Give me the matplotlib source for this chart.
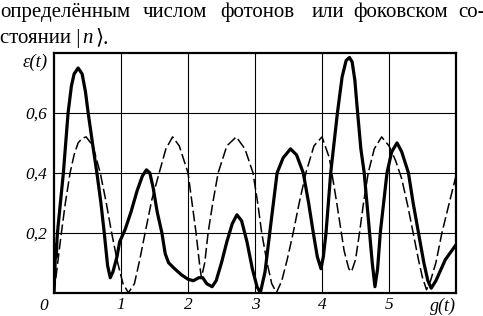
import matplotlib
matplotlib.use("Agg")
import matplotlib.pyplot as plt

W, H = 483, 316

# dashed curve
dash_x = [0.00, 0.05, 0.11, 0.17, 0.24, 0.30, 0.36, 0.42, 0.48, 0.58, 0.69, 0.78, 0.86,
          0.95, 1.03, 1.11, 1.20, 1.28, 1.36, 1.46, 1.57, 1.67, 1.77, 1.87, 2.00, 2.06,
          2.12, 2.17, 2.20, 2.25, 2.30, 2.37, 2.45, 2.58, 2.72, 2.85, 2.97, 3.04, 3.10,
          3.18, 3.25, 3.32, 3.40, 3.48, 3.57, 3.66, 3.76, 3.88, 4.00, 4.11, 4.22, 4.33,
          4.40, 4.44, 4.50, 4.56, 4.62, 4.69, 4.78, 4.89, 5.00, 5.10, 5.19, 5.28, 5.36,
          5.44, 5.50, 5.56, 5.62, 5.70, 5.79, 5.90, 6.00]
dash_y = [0.00, 0.09, 0.20, 0.30, 0.40, 0.46, 0.50, 0.515, 0.52, 0.49, 0.40, 0.30, 0.20,
          0.10, 0.03, 0.00, 0.03, 0.11, 0.20, 0.31, 0.40, 0.48, 0.52, 0.49, 0.40, 0.30,
          0.20, 0.10, 0.05, 0.10, 0.20, 0.30, 0.40, 0.49, 0.52, 0.48, 0.40, 0.30, 0.20,
          0.10, 0.03, 0.00, 0.04, 0.11, 0.20, 0.30, 0.40, 0.49, 0.52, 0.45, 0.30, 0.14,
          0.08, 0.07, 0.11, 0.20, 0.30, 0.40, 0.48, 0.52, 0.49, 0.44, 0.38, 0.29, 0.20,
          0.11, 0.05, 0.01, 0.04, 0.10, 0.20, 0.30, 0.39]

# solid curve
solid_x = [0.00, 0.015, 0.025, 0.035, 0.045, 0.06, 0.14, 0.21, 0.26, 0.30, 0.36, 0.42,
           0.47, 0.51, 0.58, 0.64, 0.70, 0.75, 0.80, 0.84, 0.88, 0.94, 0.98, 1.06, 1.15,
           1.24, 1.32, 1.38, 1.43, 1.48, 1.54, 1.61, 1.66, 1.71, 1.80, 1.90, 2.00, 2.08,
           2.16, 2.22, 2.28, 2.36, 2.42, 2.50, 2.58, 2.66, 2.73, 2.80, 2.88, 2.96, 3.03,
           3.08, 3.15, 3.22, 3.33, 3.42, 3.53, 3.62, 3.72, 3.80, 3.87, 3.93, 3.985, 4.02,
           4.06, 4.13, 4.23, 4.30, 4.36, 4.41, 4.45, 4.49, 4.52, 4.58, 4.63, 4.71, 4.75,
           4.79, 4.83, 4.87, 4.97, 5.04, 5.12, 5.19, 5.29, 5.36, 5.44, 5.52, 5.58, 5.63,
           5.70, 5.84, 6.00]
solid_y = [0.00, 0.09, 0.16, 0.12, 0.18, 0.22, 0.40, 0.60, 0.69, 0.73, 0.75, 0.73,
           0.67, 0.60, 0.49, 0.40, 0.30, 0.20, 0.09, 0.05, 0.07, 0.12, 0.17, 0.21, 0.27,
           0.34, 0.39, 0.41, 0.40, 0.35, 0.27, 0.20, 0.13, 0.10, 0.08, 0.06, 0.045, 0.04,
           0.05, 0.05, 0.03, 0.02, 0.04, 0.10, 0.17, 0.23, 0.26, 0.24, 0.17, 0.08, 0.02,
           0.00, 0.07, 0.20, 0.40, 0.45, 0.48, 0.46, 0.40, 0.30, 0.20, 0.12, 0.08, 0.12,
           0.20, 0.40, 0.60, 0.72, 0.775, 0.785, 0.77, 0.71, 0.63, 0.48, 0.40, 0.20, 0.10,
           0.02, 0.08, 0.20, 0.40, 0.47, 0.50, 0.47, 0.40, 0.30, 0.20, 0.10, 0.04, 0.015,
           0.04, 0.11, 0.16]

x_ticks = [1, 2, 3, 4, 5]
y_ticks = [0.2, 0.4, 0.6]
y_labels = ["0,2", "0,4", "0,6"]

line1_words = ["определённым", "числом", "фотонов", "или", "фоковском", "со-"]
line1_pos = [0, 143, 220, 312, 353, 458]

serif = ["Liberation Serif", "DejaVu Serif"]
plt.rcParams["font.family"] = serif

fig = plt.figure(figsize=(W / 100, H / 100), dpi=100)


def ftext(px, py, s, **kw):
    fig.text(px / W, 1 - py / H, s, va="baseline", ha="left", **kw)


for word, px in zip(line1_words, line1_pos):
    ftext(px, 17, word, fontsize=15)
ftext(0, 43, "стоянии |", fontsize=15)
ftext(82, 43, "n", fontsize=15, style="italic")
ftext(95, 43, "⟩.", fontsize=15)

ax = fig.add_axes([54 / W, 1 - 292.7 / H, (456 - 54) / W, (292.7 - 53) / H])
ax.plot(dash_x, dash_y, color="black", lw=1.1, dashes=(7, 2.5))
ax.plot(solid_x, solid_y, color="black", lw=2.3, solid_joinstyle="round")
ax.set_xlim(0, 6)
ax.set_ylim(0, 0.8)
ax.set_xticks(x_ticks, [str(t) for t in x_ticks])
ax.set_yticks(y_ticks, y_labels)
ax.tick_params(axis="x", length=0, labelsize=12.5, pad=3)
ax.tick_params(axis="y", length=0, labelsize=12.5, pad=5)
for lab in ax.get_xticklabels() + ax.get_yticklabels():
    lab.set_style("italic")
ax.grid(True, color="black", lw=0.8)
for sp in ax.spines.values():
    sp.set_linewidth(1.6)
ax.text(-0.15, -0.045, "0", ha="center", va="center", fontsize=12.5, style="italic",
        clip_on=False)
ax.text(6.0, -0.045, "g(t)", ha="right", va="center", fontsize=13, style="italic",
        clip_on=False)
ax.text(-0.09, 0.77, "ε(t)", ha="right", va="center", fontsize=13.5, style="italic",
        clip_on=False)

fig.savefig("out.png", dpi=100)
